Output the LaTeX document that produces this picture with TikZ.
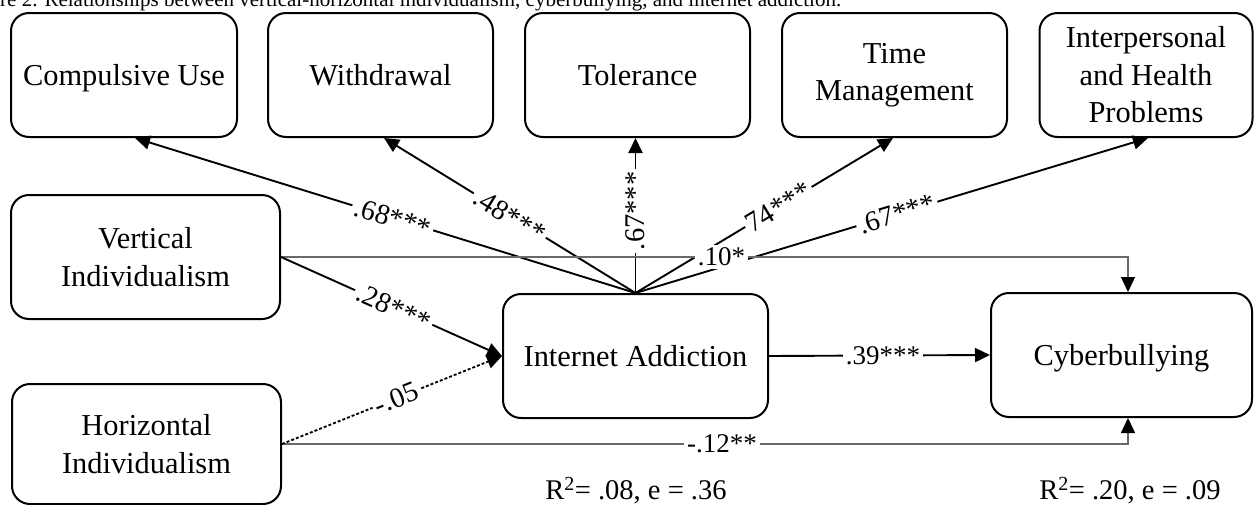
\documentclass[tikz,border=0pt]{standalone}
\usepackage{fontspec}
\setmainfont{Liberation Serif}
\usetikzlibrary{arrows.meta}
\definecolor{sidegray}{RGB}{105,105,105}
\begin{document}
\begin{tikzpicture}[x=1pt,y=-1pt,
  box/.style={draw, line width=2pt, rounded corners=18pt, align=center,
    font=\fontsize{30.4}{37.5}\selectfont, inner sep=0pt, minimum height=124pt},
  oneline/.style={text height=24pt, text depth=3pt},
  tipb/.style={-{Triangle[length=15pt,width=14pt]}},
  conn/.style={line width=1.9pt, tipb},
  dotconn/.style={line width=1.8pt, dash pattern=on 3pt off 2pt, tipb},
  side/.style={line width=1.3pt, draw=sidegray, -{Triangle[length=15pt,width=14pt,color=black]}},
  lab/.style={fill=white, inner sep=3pt, font=\fontsize{28.5}{32}\selectfont},
  hlab/.style={fill=white, inner sep=3pt, font=\fontsize{27}{30}\selectfont},
  rsq/.style={anchor=base, inner sep=0pt, font=\fontsize{28.5}{32}\selectfont},
]
\useasboundingbox (0,0) rectangle (1254,504);
\clip (0,0) rectangle (1254,504);

% caption (cut off at the top)
\node[anchor=base west, inner sep=0pt, font=\fontsize{21}{24}\selectfont] (cap) at (0,6)
  {re 2. Relationships between vertical-horizontal individualism, cyberbullying, and internet addiction.};

% boxes
\node[box, oneline, minimum width=226pt] (cu)  at (124,75)    {Compulsive Use};
\node[box, oneline, minimum width=225pt] (wd)  at (380.5,75)  {Withdrawal};
\node[box, oneline, minimum width=225pt] (tol) at (637.5,75)  {Tolerance};
\node[box, minimum width=225pt] (tm)  at (894.5,75)  {Time\\Management};
\node[box, minimum width=213pt] (ih)  at (1146,75)   {Interpersonal\\and Health\\Problems};
\node[box, minimum width=269pt] (vi)  at (145.5,257) {Vertical\\Individualism};
\node[box, minimum width=269pt, minimum height=120pt] (hi) at (146.5,444) {Horizontal\\Individualism};
\node[box, oneline, minimum width=265pt] (ia)  at (635.5,356) {Internet Addiction};
\node[box, oneline, minimum width=261pt] (cb)  at (1121.5,355) {Cyberbullying};

% fan from Internet Addiction to its indicators
\draw[conn] (ia.north) -- ([xshift=11pt]cu.south)
  node[lab, sloped, pos=0.485] (l1) {.68***};
\draw[conn] (ia.north) -- ([xshift=3.5pt]wd.south)
  node[lab, sloped, pos=0.50] (l2) {.48***};
\draw[conn] (ia.north) -- (ia.north |- tol.south)
  node[lab, sloped, pos=0.53] (l3) {.67***};
\draw[conn] (ia.north) -- ([xshift=-1.5pt]tm.south)
  node[lab, sloped, pos=0.555] (l4) {74***};
\draw[conn] (ia.north) -- ([xshift=2pt]ih.south)
  node[lab, sloped, pos=0.51] (l5) {.67***};

% direct paths to cyberbullying
\draw[side] (vi.east) -| ([xshift=6.5pt]cb.north)
  node[hlab, pos=0.26] (l6) {.10*};
\draw[side] (hi.east) -| ([xshift=6.5pt]cb.south)
  node[hlab, pos=0.26] (l7) {-.12**};

% predictors of internet addiction
\draw[conn] (vi.east) -- (ia.west)
  node[lab, sloped, pos=0.51] (l8) {.28***};
\draw[dotconn] (hi.east) -- (ia.west)
  node[lab, sloped, pos=0.52] (l9) {-.05};

% internet addiction to cyberbullying
\draw[conn] (ia.east) -- (cb.west)
  node[hlab, pos=0.516] (l10) {.39***};

% explained variance
\node[rsq] (r1) at (636,499.5) {R\textsuperscript{2}= .08, e = .36};
\node[rsq] (r2) at (1130,499.5) {R\textsuperscript{2}= .20, e = .09};
\end{tikzpicture}
\end{document}
